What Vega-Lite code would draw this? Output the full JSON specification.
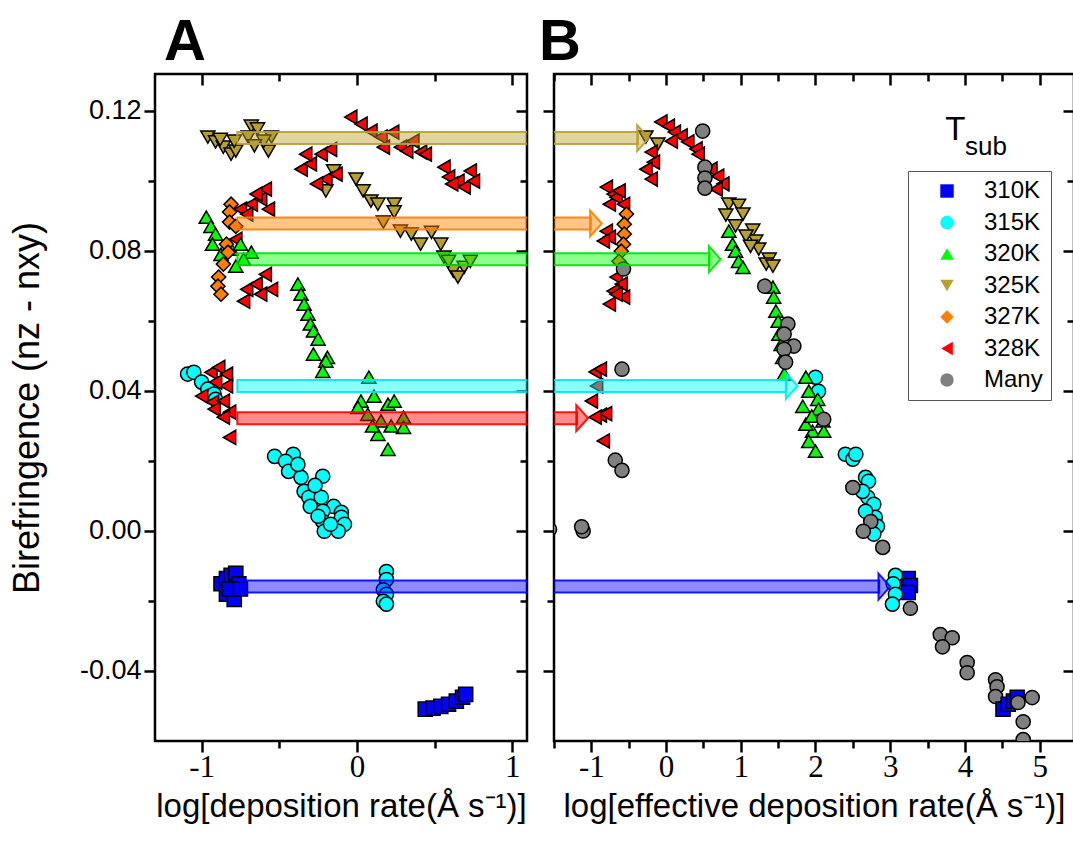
{
"$schema": "https://vega.github.io/schema/vega-lite/v6.json",
"background": "white",
"padding": {"left": 8, "top": 12, "right": 5, "bottom": 5},
"config": {
  "view": {"stroke": "black", "strokeWidth": 2.5},
  "axis": {"domain": false, "grid": false, "tickColor": "black", "tickWidth": 2.5, "labelColor": "black", "titleColor": "black", "labelFont": "Liberation Sans", "titleFont": "Liberation Sans", "titleFontWeight": "normal"},
  "title": {"font": "Liberation Sans", "fontWeight": "bold", "fontSize": 58, "color": "black", "anchor": "start", "frame": "group"}
},
"datasets": {
  "arrows": [
    {"T": "325K", "y": 0.1122, "xa": -0.77, "xb": -0.23},
    {"T": "327K", "y": 0.0878, "xa": -0.77, "xb": -0.86},
    {"T": "320K", "y": 0.0776, "xa": -0.77, "xb": 0.73},
    {"T": "315K", "y": 0.0414, "xa": -0.77, "xb": 1.76},
    {"T": "328K", "y": 0.0322, "xa": -0.77, "xb": -1.045},
    {"T": "310K", "y": -0.0159, "xa": -0.75, "xb": 3.0}
  ],
  "pts": [
    {"p":"A","T":"325K","x":-0.96,"y":0.1125},{"p":"A","T":"325K","x":-0.91,"y":0.1111},{"p":"A","T":"325K","x":-0.86,"y":0.1096},{"p":"A","T":"325K","x":-0.81,"y":0.1076},{"p":"A","T":"325K","x":-0.78,"y":0.1085},{"p":"A","T":"325K","x":-0.79,"y":0.1113},{"p":"A","T":"325K","x":-0.68,"y":0.1156},{"p":"A","T":"325K","x":-0.64,"y":0.1148},{"p":"A","T":"325K","x":-0.57,"y":0.1085},{"p":"A","T":"325K","x":-0.55,"y":0.1125},{"p":"A","T":"325K","x":-0.60,"y":0.1113},{"p":"A","T":"325K","x":-0.70,"y":0.1125},{"p":"A","T":"325K","x":-0.15,"y":0.1028},{"p":"A","T":"325K","x":-0.20,"y":0.0971},{"p":"A","T":"325K","x":-0.88,"y":0.1118},{"p":"A","T":"325K","x":-0.66,"y":0.1100},
    {"p":"A","T":"325K","x":-0.006,"y":0.1005},{"p":"A","T":"325K","x":0.04,"y":0.0971},{"p":"A","T":"325K","x":0.09,"y":0.0942},{"p":"A","T":"325K","x":0.135,"y":0.0933},{"p":"A","T":"325K","x":0.24,"y":0.0933},{"p":"A","T":"325K","x":0.24,"y":0.0911},{"p":"A","T":"325K","x":0.17,"y":0.0882},{"p":"A","T":"325K","x":0.28,"y":0.0856},{"p":"A","T":"325K","x":0.35,"y":0.0848},{"p":"A","T":"325K","x":0.41,"y":0.0819},{"p":"A","T":"325K","x":0.48,"y":0.0853},{"p":"A","T":"325K","x":0.54,"y":0.0819},{"p":"A","T":"325K","x":0.56,"y":0.0782},{"p":"A","T":"325K","x":0.62,"y":0.0742},{"p":"A","T":"325K","x":0.69,"y":0.0753},{"p":"A","T":"325K","x":0.73,"y":0.0770},{"p":"A","T":"325K","x":0.65,"y":0.0725},{"p":"A","T":"325K","x":0.59,"y":0.0770},
    {"p":"A","T":"328K","x":-0.04,"y":0.1182},{"p":"A","T":"328K","x":0.026,"y":0.1162},{"p":"A","T":"328K","x":0.09,"y":0.1142},{"p":"A","T":"328K","x":0.155,"y":0.1125},{"p":"A","T":"328K","x":0.23,"y":0.1139},{"p":"A","T":"328K","x":0.17,"y":0.1096},{"p":"A","T":"328K","x":0.28,"y":0.1096},{"p":"A","T":"328K","x":0.36,"y":0.1113},{"p":"A","T":"328K","x":0.41,"y":0.1082},{"p":"A","T":"328K","x":0.44,"y":0.1076},{"p":"A","T":"328K","x":0.32,"y":0.1085},
    {"p":"A","T":"328K","x":0.56,"y":0.1039},{"p":"A","T":"328K","x":0.59,"y":0.1011},{"p":"A","T":"328K","x":0.65,"y":0.0999},{"p":"A","T":"328K","x":0.73,"y":0.1028},{"p":"A","T":"328K","x":0.69,"y":0.0982},{"p":"A","T":"328K","x":0.61,"y":0.0991},{"p":"A","T":"328K","x":0.75,"y":0.0999},
    {"p":"A","T":"328K","x":-0.36,"y":0.1033},{"p":"A","T":"328K","x":-0.30,"y":0.1048},{"p":"A","T":"328K","x":-0.23,"y":0.1076},{"p":"A","T":"328K","x":-0.17,"y":0.1090},{"p":"A","T":"328K","x":-0.20,"y":0.1005},{"p":"A","T":"328K","x":-0.26,"y":0.0991},{"p":"A","T":"328K","x":-0.135,"y":0.1019},{"p":"A","T":"328K","x":-0.33,"y":0.1076},
    {"p":"A","T":"328K","x":-0.75,"y":0.0919},{"p":"A","T":"328K","x":-0.68,"y":0.0933},{"p":"A","T":"328K","x":-0.62,"y":0.0948},{"p":"A","T":"328K","x":-0.59,"y":0.0976},{"p":"A","T":"328K","x":-0.65,"y":0.0962},{"p":"A","T":"328K","x":-0.71,"y":0.0905},{"p":"A","T":"328K","x":-0.57,"y":0.0919},{"p":"A","T":"328K","x":-0.78,"y":0.0833},
    {"p":"A","T":"328K","x":-0.71,"y":0.0690},{"p":"A","T":"328K","x":-0.65,"y":0.0705},{"p":"A","T":"328K","x":-0.59,"y":0.0733},{"p":"A","T":"328K","x":-0.62,"y":0.0676},{"p":"A","T":"328K","x":-0.55,"y":0.0690},{"p":"A","T":"328K","x":-0.73,"y":0.0656},
    {"p":"A","T":"320K","x":-0.97,"y":0.0896},{"p":"A","T":"320K","x":-0.94,"y":0.0870},{"p":"A","T":"320K","x":-0.91,"y":0.0848},{"p":"A","T":"320K","x":-0.93,"y":0.0819},{"p":"A","T":"320K","x":-0.875,"y":0.0790},{"p":"A","T":"320K","x":-0.81,"y":0.0805},{"p":"A","T":"320K","x":-0.75,"y":0.0819},{"p":"A","T":"320K","x":-0.68,"y":0.0796},{"p":"A","T":"320K","x":-0.73,"y":0.0776},{"p":"A","T":"320K","x":-0.78,"y":0.0756},
    {"p":"A","T":"327K","x":-0.81,"y":0.0933},{"p":"A","T":"327K","x":-0.82,"y":0.0911},{"p":"A","T":"327K","x":-0.82,"y":0.0882},{"p":"A","T":"327K","x":-0.84,"y":0.0819},{"p":"A","T":"327K","x":-0.83,"y":0.0796},{"p":"A","T":"327K","x":-0.86,"y":0.0762},{"p":"A","T":"327K","x":-0.89,"y":0.0725},{"p":"A","T":"327K","x":-0.895,"y":0.0699},{"p":"A","T":"327K","x":-0.875,"y":0.0676},{"p":"A","T":"327K","x":-0.78,"y":0.0870},
    {"p":"A","T":"320K","x":-0.38,"y":0.0705},{"p":"A","T":"320K","x":-0.36,"y":0.0676},{"p":"A","T":"320K","x":-0.34,"y":0.0648},{"p":"A","T":"320K","x":-0.315,"y":0.0619},{"p":"A","T":"320K","x":-0.30,"y":0.0591},{"p":"A","T":"320K","x":-0.28,"y":0.0571},{"p":"A","T":"320K","x":-0.25,"y":0.0548},{"p":"A","T":"320K","x":-0.28,"y":0.0505},{"p":"A","T":"320K","x":-0.19,"y":0.0496},{"p":"A","T":"320K","x":-0.20,"y":0.0485},{"p":"A","T":"320K","x":-0.22,"y":0.0456},
    {"p":"A","T":"320K","x":0.077,"y":0.0439},{"p":"A","T":"320K","x":0.026,"y":0.0371},{"p":"A","T":"320K","x":0.11,"y":0.0385},{"p":"A","T":"320K","x":0.20,"y":0.0362},{"p":"A","T":"320K","x":0.24,"y":0.0371},{"p":"A","T":"320K","x":0.30,"y":0.0325},{"p":"A","T":"320K","x":0.155,"y":0.0314},{"p":"A","T":"320K","x":0.30,"y":0.0296},{"p":"A","T":"320K","x":0.135,"y":0.0276},{"p":"A","T":"320K","x":0.20,"y":0.0233},{"p":"A","T":"320K","x":0.006,"y":0.0353},{"p":"A","T":"320K","x":0.07,"y":0.0333},{"p":"A","T":"320K","x":0.10,"y":0.0300},{"p":"A","T":"320K","x":0.22,"y":0.0300},
    {"p":"A","T":"315K","x":-1.09,"y":0.0448},{"p":"A","T":"315K","x":-1.05,"y":0.0453},{"p":"A","T":"315K","x":-1.0,"y":0.0425},{"p":"A","T":"315K","x":-0.96,"y":0.0405},{"p":"A","T":"315K","x":-0.92,"y":0.0391},{"p":"A","T":"315K","x":-0.91,"y":0.0376},
    {"p":"A","T":"328K","x":-0.94,"y":0.0453},{"p":"A","T":"328K","x":-0.89,"y":0.0467},{"p":"A","T":"328K","x":-0.84,"y":0.0448},{"p":"A","T":"328K","x":-0.84,"y":0.0414},{"p":"A","T":"328K","x":-0.91,"y":0.0425},{"p":"A","T":"328K","x":-1.0,"y":0.0385},{"p":"A","T":"328K","x":-0.93,"y":0.0368},{"p":"A","T":"328K","x":-0.86,"y":0.0371},{"p":"A","T":"328K","x":-0.82,"y":0.0339},{"p":"A","T":"328K","x":-0.92,"y":0.0348},{"p":"A","T":"328K","x":-0.86,"y":0.0325},{"p":"A","T":"328K","x":-0.82,"y":0.0267},
    {"p":"A","T":"315K","x":-0.53,"y":0.0213},{"p":"A","T":"315K","x":-0.41,"y":0.0219},{"p":"A","T":"315K","x":-0.46,"y":0.0199},{"p":"A","T":"315K","x":-0.44,"y":0.0170},{"p":"A","T":"315K","x":-0.36,"y":0.0153},{"p":"A","T":"315K","x":-0.22,"y":0.0156},{"p":"A","T":"315K","x":-0.34,"y":0.0113},{"p":"A","T":"315K","x":-0.31,"y":0.0096},{"p":"A","T":"315K","x":-0.23,"y":0.0096},{"p":"A","T":"315K","x":-0.15,"y":0.0070},{"p":"A","T":"315K","x":-0.10,"y":0.0053},{"p":"A","T":"315K","x":-0.30,"y":0.0070},{"p":"A","T":"315K","x":-0.22,"y":0.0056},{"p":"A","T":"315K","x":-0.22,"y":0.0027},{"p":"A","T":"315K","x":-0.10,"y":0.0039},{"p":"A","T":"315K","x":-0.08,"y":0.0019},{"p":"A","T":"315K","x":-0.12,"y":-0.0001},{"p":"A","T":"315K","x":-0.21,"y":-0.0001},{"p":"A","T":"315K","x":-0.17,"y":0.0019},{"p":"A","T":"315K","x":-0.25,"y":0.0042},{"p":"A","T":"315K","x":-0.38,"y":0.0190},{"p":"A","T":"315K","x":-0.27,"y":0.0130},
    {"p":"A","T":"315K","x":0.19,"y":-0.0116},{"p":"A","T":"315K","x":0.19,"y":-0.0139},{"p":"A","T":"315K","x":0.17,"y":-0.0168},{"p":"A","T":"315K","x":0.19,"y":-0.0181},{"p":"A","T":"315K","x":0.17,"y":-0.0201},{"p":"A","T":"315K","x":0.19,"y":-0.0209},
    {"p":"A","T":"310K","x":-0.875,"y":-0.0151},{"p":"A","T":"310K","x":-0.84,"y":-0.0136},{"p":"A","T":"310K","x":-0.81,"y":-0.0127},{"p":"A","T":"310K","x":-0.78,"y":-0.0121},{"p":"A","T":"310K","x":-0.76,"y":-0.0151},{"p":"A","T":"310K","x":-0.84,"y":-0.0181},{"p":"A","T":"310K","x":-0.79,"y":-0.0196},{"p":"A","T":"310K","x":-0.82,"y":-0.0166},{"p":"A","T":"310K","x":-0.75,"y":-0.0166},
    {"p":"A","T":"310K","x":0.44,"y":-0.0509},{"p":"A","T":"310K","x":0.49,"y":-0.0506},{"p":"A","T":"310K","x":0.54,"y":-0.0501},{"p":"A","T":"310K","x":0.59,"y":-0.0495},{"p":"A","T":"310K","x":0.64,"y":-0.0486},{"p":"A","T":"310K","x":0.68,"y":-0.0475},{"p":"A","T":"310K","x":0.70,"y":-0.0467},

    {"p":"B","T":"Many","x":-1.56,"y":0.0005},{"p":"B","T":"Many","x":-1.11,"y":0.0000},{"p":"B","T":"Many","x":-1.13,"y":0.0012},{"p":"B","T":"Many","x":-0.59,"y":0.0462},{"p":"B","T":"Many","x":-0.68,"y":0.0202},{"p":"B","T":"Many","x":-0.59,"y":0.0173},
    {"p":"B","T":"328K","x":-0.80,"y":0.0982},{"p":"B","T":"328K","x":-0.71,"y":0.0962},{"p":"B","T":"328K","x":-0.76,"y":0.0933},{"p":"B","T":"328K","x":-0.67,"y":0.0953},{"p":"B","T":"328K","x":-0.63,"y":0.0971},{"p":"B","T":"328K","x":-0.80,"y":0.0856},{"p":"B","T":"328K","x":-0.76,"y":0.0839},{"p":"B","T":"328K","x":-0.84,"y":0.0828},{"p":"B","T":"328K","x":-0.67,"y":0.0725},{"p":"B","T":"328K","x":-0.60,"y":0.0705},{"p":"B","T":"328K","x":-0.71,"y":0.0685},{"p":"B","T":"328K","x":-0.57,"y":0.0668},{"p":"B","T":"328K","x":-0.76,"y":0.0648},{"p":"B","T":"328K","x":-0.67,"y":0.0676},{"p":"B","T":"328K","x":-0.57,"y":0.0933},
    {"p":"B","T":"327K","x":-0.53,"y":0.0905},{"p":"B","T":"327K","x":-0.56,"y":0.0876},{"p":"B","T":"327K","x":-0.56,"y":0.0848},{"p":"B","T":"327K","x":-0.57,"y":0.0819},{"p":"B","T":"327K","x":-0.60,"y":0.0799},{"p":"B","T":"327K","x":-0.63,"y":0.0770},
    {"p":"B","T":"Many","x":-0.57,"y":0.0748},
    {"p":"B","T":"328K","x":-0.95,"y":0.0454},{"p":"B","T":"328K","x":-0.88,"y":0.0462},{"p":"B","T":"328K","x":-0.93,"y":0.0414},{"p":"B","T":"328K","x":-1.0,"y":0.0371},{"p":"B","T":"328K","x":-0.88,"y":0.0331},{"p":"B","T":"328K","x":-0.81,"y":0.0335},{"p":"B","T":"328K","x":-0.84,"y":0.0257},{"p":"B","T":"328K","x":-0.95,"y":0.0325},
    {"p":"B","T":"325K","x":-0.27,"y":0.1125},{"p":"B","T":"325K","x":-0.11,"y":0.1105},
    {"p":"B","T":"328K","x":-0.07,"y":0.1168},{"p":"B","T":"328K","x":0.03,"y":0.1156},{"p":"B","T":"328K","x":0.11,"y":0.1139},{"p":"B","T":"328K","x":0.20,"y":0.1128},{"p":"B","T":"328K","x":0.29,"y":0.1111},{"p":"B","T":"328K","x":0.40,"y":0.1091},{"p":"B","T":"328K","x":0.43,"y":0.1076},{"p":"B","T":"328K","x":-0.20,"y":0.1082},{"p":"B","T":"328K","x":-0.17,"y":0.1053},{"p":"B","T":"328K","x":-0.27,"y":0.1033},{"p":"B","T":"328K","x":-0.20,"y":0.1005},{"p":"B","T":"328K","x":0.60,"y":0.1033},{"p":"B","T":"328K","x":0.69,"y":0.1013},{"p":"B","T":"328K","x":0.76,"y":0.0991},{"p":"B","T":"328K","x":0.67,"y":0.0976},{"p":"B","T":"328K","x":0.07,"y":0.1113},
    {"p":"B","T":"Many","x":0.49,"y":0.1142},{"p":"B","T":"Many","x":0.52,"y":0.1039},{"p":"B","T":"Many","x":0.52,"y":0.1008},{"p":"B","T":"Many","x":0.52,"y":0.0979},
    {"p":"B","T":"325K","x":0.84,"y":0.0933},{"p":"B","T":"325K","x":0.97,"y":0.0930},{"p":"B","T":"325K","x":0.80,"y":0.0902},{"p":"B","T":"325K","x":1.03,"y":0.0905},{"p":"B","T":"325K","x":0.93,"y":0.0871},{"p":"B","T":"325K","x":1.16,"y":0.0859},{"p":"B","T":"325K","x":1.20,"y":0.0828},{"p":"B","T":"325K","x":1.07,"y":0.0842},{"p":"B","T":"325K","x":1.24,"y":0.0805},{"p":"B","T":"325K","x":1.38,"y":0.0776},{"p":"B","T":"325K","x":1.34,"y":0.0762},{"p":"B","T":"325K","x":1.43,"y":0.0756},{"p":"B","T":"325K","x":1.13,"y":0.0813},
    {"p":"B","T":"320K","x":0.84,"y":0.0856},{"p":"B","T":"320K","x":0.89,"y":0.0819},{"p":"B","T":"320K","x":0.93,"y":0.0799},{"p":"B","T":"320K","x":0.97,"y":0.0770},{"p":"B","T":"320K","x":1.03,"y":0.0753},{"p":"B","T":"320K","x":1.43,"y":0.0696},{"p":"B","T":"320K","x":1.44,"y":0.0668},{"p":"B","T":"320K","x":1.47,"y":0.0628},{"p":"B","T":"320K","x":1.50,"y":0.0599},{"p":"B","T":"320K","x":1.51,"y":0.0562},{"p":"B","T":"320K","x":1.54,"y":0.0533},{"p":"B","T":"320K","x":1.56,"y":0.0496},{"p":"B","T":"320K","x":1.58,"y":0.0448},
    {"p":"B","T":"Many","x":1.32,"y":0.0699},{"p":"B","T":"Many","x":1.63,"y":0.0591},{"p":"B","T":"Many","x":1.58,"y":0.0562},{"p":"B","T":"Many","x":1.71,"y":0.0528},{"p":"B","T":"Many","x":1.58,"y":0.0519},{"p":"B","T":"Many","x":1.60,"y":0.0482},
    {"p":"B","T":"315K","x":2.0,"y":0.0439},{"p":"B","T":"315K","x":2.04,"y":0.0399},
    {"p":"B","T":"320K","x":1.87,"y":0.0439},{"p":"B","T":"320K","x":1.91,"y":0.0399},{"p":"B","T":"320K","x":2.03,"y":0.0376},{"p":"B","T":"320K","x":1.83,"y":0.0356},{"p":"B","T":"320K","x":2.10,"y":0.0314},{"p":"B","T":"320K","x":1.96,"y":0.0285},{"p":"B","T":"320K","x":2.11,"y":0.0285},{"p":"B","T":"320K","x":1.91,"y":0.0256},{"p":"B","T":"320K","x":2.0,"y":0.0228},{"p":"B","T":"320K","x":2.04,"y":0.0348},{"p":"B","T":"320K","x":1.87,"y":0.0305},{"p":"B","T":"320K","x":1.95,"y":0.0328},
    {"p":"B","T":"Many","x":2.11,"y":0.0319},
    {"p":"B","T":"315K","x":2.40,"y":0.0219},{"p":"B","T":"315K","x":2.50,"y":0.0205},{"p":"B","T":"315K","x":2.54,"y":0.0219},{"p":"B","T":"315K","x":2.67,"y":0.0153},{"p":"B","T":"315K","x":2.71,"y":0.0142},{"p":"B","T":"315K","x":2.70,"y":0.0096},{"p":"B","T":"315K","x":2.78,"y":0.0076},{"p":"B","T":"315K","x":2.80,"y":0.0039},{"p":"B","T":"315K","x":2.83,"y":0.0013},{"p":"B","T":"315K","x":2.67,"y":0.0056},{"p":"B","T":"315K","x":2.63,"y":0.0113},{"p":"B","T":"315K","x":2.78,"y":-0.0009},
    {"p":"B","T":"Many","x":2.50,"y":0.0124},{"p":"B","T":"Many","x":2.74,"y":0.0027},{"p":"B","T":"Many","x":2.64,"y":-0.0001},{"p":"B","T":"Many","x":2.90,"y":-0.0047},
    {"p":"B","T":"310K","x":3.24,"y":-0.0136},{"p":"B","T":"310K","x":3.27,"y":-0.0156},{"p":"B","T":"310K","x":3.24,"y":-0.0176},
    {"p":"B","T":"315K","x":3.07,"y":-0.0127},{"p":"B","T":"315K","x":3.04,"y":-0.0151},{"p":"B","T":"315K","x":3.07,"y":-0.0181},{"p":"B","T":"315K","x":3.03,"y":-0.0209},
    {"p":"B","T":"Many","x":3.27,"y":-0.0221},{"p":"B","T":"Many","x":3.67,"y":-0.0296},{"p":"B","T":"Many","x":3.83,"y":-0.0305},{"p":"B","T":"Many","x":3.70,"y":-0.0331},{"p":"B","T":"Many","x":4.03,"y":-0.0376},{"p":"B","T":"Many","x":4.03,"y":-0.0405},{"p":"B","T":"Many","x":4.41,"y":-0.0425},{"p":"B","T":"Many","x":4.43,"y":-0.0445},{"p":"B","T":"Many","x":4.41,"y":-0.0473},
    {"p":"B","T":"310K","x":4.51,"y":-0.0509},{"p":"B","T":"310K","x":4.58,"y":-0.0495},{"p":"B","T":"310K","x":4.65,"y":-0.0486},{"p":"B","T":"310K","x":4.70,"y":-0.0475},
    {"p":"B","T":"Many","x":4.71,"y":-0.0490},{"p":"B","T":"Many","x":4.90,"y":-0.0476},{"p":"B","T":"Many","x":4.78,"y":-0.0545},{"p":"B","T":"Many","x":4.78,"y":-0.0596}
  ]
},
"spacing": 7,
"resolve": {"scale": {"fill": "independent", "shape": "independent", "color": "independent", "stroke": "independent"}},
"hconcat": [
{
  "width": 372, "height": 667,
  "title": {"text": "A", "dx": 9, "offset": 1},
  "resolve": {"axis": {"x": "independent", "y": "independent"}},
  "layer": [
    {"data": {"name": "pts"}, "transform": [{"filter": "datum.p === 'A'"}],
     "mark": {"type": "point", "filled": true, "size": 200, "stroke": "black", "strokeWidth": 1.5, "opacity": 1, "clip": true},
     "encoding": {
       "x": {"field": "x", "type": "quantitative", "scale": {"domain": [-1.3, 1.095], "nice": false, "zero": false}, "axis": null},
       "y": {"field": "y", "type": "quantitative", "scale": {"domain": [-0.06, 0.1305], "nice": false, "zero": false}, "axis": null},
       "fill": {"field": "T", "type": "nominal", "scale": {"domain": ["310K","315K","320K","325K","327K","328K","Many"], "range": ["#0000ff","#00ffff","#00ff00","#b8a030","#ff8000","#ff0000","#808080"]}, "legend": null},
       "shape": {"field": "T", "type": "nominal", "scale": {"domain": ["310K","315K","320K","325K","327K","328K","Many"], "range": ["square","circle","triangle-up","triangle-down","diamond","triangle-left","circle"]}, "legend": null}
     }},
    {"data": {"name": "arrows"},
     "mark": {"type": "rect", "fillOpacity": 0.45, "strokeOpacity": 0.9, "strokeWidth": 2, "yOffset": -6, "y2Offset": 6, "clip": true},
     "encoding": {
       "x": {"field": "xa", "type": "quantitative", "axis": null},
       "x2": {"datum": 3},
       "y": {"field": "y", "type": "quantitative", "axis": null},
       "y2": {"field": "y"},
       "color": {"field": "T", "type": "nominal", "scale": {"domain": ["310K","315K","320K","325K","327K","328K"], "range": ["#0000ff","#00ffff","#00ff00","#b8a030","#ff8000","#ff0000"]}, "legend": null},
       "stroke": {"field": "T", "type": "nominal", "scale": {"domain": ["310K","315K","320K","325K","327K","328K"], "range": ["#0000ff","#00e8e8","#00e000","#b8a030","#ff8000","#ff0000"]}, "legend": null}
     }},
    {"data": {"name": "arrows"}, "mark": {"type": "point", "opacity": 0},
     "encoding": {
       "x": {"datum": 0, "type": "quantitative", "axis": {"orient": "bottom", "values": [-1, 0, 1], "tickSize": 11, "labelFontSize": 31, "labelFont": "Liberation Sans Narrow", "labelPadding": 0, "labelExpr": "'' + datum.value", "title": "log[deposition rate(Å s⁻¹)]", "titleFontSize": 33, "titlePadding": 8}},
       "y": {"datum": 0, "type": "quantitative", "axis": {"orient": "left", "values": [-0.04, 0, 0.04, 0.08, 0.12], "tickSize": 11, "labelFontSize": 27, "labelPadding": 3, "labelExpr": "replace(format(datum.value, '.2f'), '−', '-')", "title": "Birefringence (nz - nxy)", "titleFontSize": 36, "titlePadding": 33}}
     }},
    {"data": {"name": "arrows"}, "mark": {"type": "point", "opacity": 0},
     "encoding": {
       "x": {"datum": 0, "type": "quantitative", "axis": {"orient": "bottom", "values": [-0.5, 0.5], "tickSize": 7, "labels": false, "title": null}},
       "y": {"datum": 0, "type": "quantitative", "axis": {"orient": "left", "values": [-0.02, 0.02, 0.06, 0.10], "tickSize": 7, "labels": false, "title": null}}
     }},
    {"data": {"name": "arrows"}, "mark": {"type": "point", "opacity": 0},
     "encoding": {
       "x": {"datum": 0, "type": "quantitative", "axis": {"orient": "top", "values": [-1, 0, 1], "tickSize": -11, "labels": false, "title": null}},
       "y": {"datum": 0, "type": "quantitative", "axis": {"orient": "right", "values": [-0.04, 0, 0.04, 0.08, 0.12], "tickSize": -11, "labels": false, "title": null}}
     }},
    {"data": {"name": "arrows"}, "mark": {"type": "point", "opacity": 0},
     "encoding": {
       "x": {"datum": 0, "type": "quantitative", "axis": {"orient": "top", "values": [-0.5, 0.5], "tickSize": -7, "labels": false, "title": null}},
       "y": {"datum": 0, "type": "quantitative", "axis": {"orient": "right", "values": [-0.02, 0.02, 0.06, 0.10], "tickSize": -7, "labels": false, "title": null}}
     }}
  ]
},
{
  "width": 520, "height": 667,
  "title": {"text": "B", "dx": -15, "offset": 1},
  "resolve": {"axis": {"x": "independent", "y": "independent"}},
  "layer": [
    {"data": {"name": "pts"}, "transform": [{"filter": "datum.p === 'B'"}],
     "mark": {"type": "point", "filled": true, "size": 200, "stroke": "black", "strokeWidth": 1.5, "opacity": 1, "clip": true},
     "encoding": {
       "x": {"field": "x", "type": "quantitative", "scale": {"domain": [-1.5, 5.46], "nice": false, "zero": false}, "axis": null},
       "y": {"field": "y", "type": "quantitative", "scale": {"domain": [-0.06, 0.1305], "nice": false, "zero": false}, "axis": null},
       "fill": {"field": "T", "type": "nominal", "scale": {"domain": ["310K","315K","320K","325K","327K","328K","Many"], "range": ["#0000ff","#00ffff","#00ff00","#b8a030","#ff8000","#ff0000","#808080"]},
         "legend": {"orient": "none", "legendX": 354, "legendY": 97, "title": null, "strokeColor": "#555555", "fillColor": "white", "padding": 8, "symbolOffset": 19, "labelOffset": 25, "labelFontSize": 24, "labelFont": "Liberation Sans", "labelColor": "black", "symbolSize": 180, "symbolStrokeColor": "black", "symbolStrokeWidth": 1.5, "rowPadding": 7.5, "cornerRadius": 0}},
       "shape": {"field": "T", "type": "nominal", "scale": {"domain": ["310K","315K","320K","325K","327K","328K","Many"], "range": ["square","circle","triangle-up","triangle-down","diamond","triangle-left","circle"]},
         "legend": {"orient": "none", "legendX": 354, "legendY": 97, "title": null, "strokeColor": "#555555", "fillColor": "white", "padding": 8, "symbolOffset": 19, "labelOffset": 25, "labelFontSize": 24, "labelFont": "Liberation Sans", "labelColor": "black", "symbolSize": 180, "symbolStrokeColor": "black", "symbolStrokeWidth": 1.5, "rowPadding": 7.5, "cornerRadius": 0}}
     }},
    {"data": {"name": "arrows"},
     "mark": {"type": "rect", "fillOpacity": 0.45, "strokeOpacity": 0.9, "strokeWidth": 2, "yOffset": -6, "y2Offset": 6, "xOffset": -11, "clip": true},
     "encoding": {
       "x": {"field": "xb", "type": "quantitative", "axis": null},
       "x2": {"datum": -3},
       "y": {"field": "y", "type": "quantitative", "axis": null},
       "y2": {"field": "y"},
       "color": {"field": "T", "type": "nominal", "scale": {"domain": ["310K","315K","320K","325K","327K","328K"], "range": ["#0000ff","#00ffff","#00ff00","#b8a030","#ff8000","#ff0000"]}, "legend": null},
       "stroke": {"field": "T", "type": "nominal", "scale": {"domain": ["310K","315K","320K","325K","327K","328K"], "range": ["#0000ff","#00e8e8","#00e000","#b8a030","#ff8000","#ff0000"]}, "legend": null}
     }},
    {"data": {"name": "arrows"},
     "mark": {"type": "point", "shape": "M0,0L-0.9,-1L-0.9,1Z", "size": 676, "filled": true, "fillOpacity": 0.45, "strokeOpacity": 0.9, "strokeWidth": 2, "opacity": 1, "clip": true},
     "encoding": {
       "x": {"field": "xb", "type": "quantitative", "axis": null},
       "y": {"field": "y", "type": "quantitative", "axis": null},
       "color": {"field": "T", "type": "nominal", "legend": null},
       "stroke": {"field": "T", "type": "nominal", "legend": null}
     }},
    {"data": {"values": [{"label": "T"}]},
     "mark": {"type": "text", "fontSize": 33, "font": "Liberation Sans", "align": "center", "baseline": "alphabetic", "color": "black"},
     "encoding": {
       "x": {"datum": 3.87, "type": "quantitative", "axis": null},
       "y": {"datum": 0.1116, "type": "quantitative", "axis": null},
       "text": {"field": "label", "type": "nominal"}
     }},
    {"data": {"values": [{"label": "sub"}]},
     "mark": {"type": "text", "fontSize": 26, "font": "Liberation Sans", "align": "left", "baseline": "alphabetic", "color": "black"},
     "encoding": {
       "x": {"datum": 4.0, "type": "quantitative", "axis": null},
       "y": {"datum": 0.1075, "type": "quantitative", "axis": null},
       "text": {"field": "label", "type": "nominal"}
     }},
    {"data": {"name": "arrows"}, "mark": {"type": "point", "opacity": 0},
     "encoding": {
       "x": {"datum": 0, "type": "quantitative", "axis": {"orient": "bottom", "values": [-1, 0, 1, 2, 3, 4, 5], "tickSize": 11, "labelFontSize": 31, "labelFont": "Liberation Sans Narrow", "labelPadding": 0, "labelExpr": "'' + datum.value", "title": "log[effective deposition rate(Å s⁻¹)]", "titleFontSize": 33, "titlePadding": 8}},
       "y": {"datum": 0, "type": "quantitative", "axis": {"orient": "left", "values": [-0.04, 0, 0.04, 0.08, 0.12], "tickSize": 11, "labels": false, "title": null}}
     }},
    {"data": {"name": "arrows"}, "mark": {"type": "point", "opacity": 0},
     "encoding": {
       "x": {"datum": 0, "type": "quantitative", "axis": {"orient": "bottom", "values": [-1.5, -0.5, 0.5, 1.5, 2.5, 3.5, 4.5], "tickSize": 7, "labels": false, "title": null}},
       "y": {"datum": 0, "type": "quantitative", "axis": {"orient": "left", "values": [-0.02, 0.02, 0.06, 0.10], "tickSize": 7, "labels": false, "title": null}}
     }},
    {"data": {"name": "arrows"}, "mark": {"type": "point", "opacity": 0},
     "encoding": {
       "x": {"datum": 0, "type": "quantitative", "axis": {"orient": "top", "values": [-1, 0, 1, 2, 3, 4, 5], "tickSize": -11, "labels": false, "title": null}},
       "y": {"datum": 0, "type": "quantitative", "axis": {"orient": "right", "values": [-0.04, 0, 0.04, 0.08, 0.12], "tickSize": -11, "labels": false, "title": null}}
     }},
    {"data": {"name": "arrows"}, "mark": {"type": "point", "opacity": 0},
     "encoding": {
       "x": {"datum": 0, "type": "quantitative", "axis": {"orient": "top", "values": [-1.5, -0.5, 0.5, 1.5, 2.5, 3.5, 4.5], "tickSize": -7, "labels": false, "title": null}},
       "y": {"datum": 0, "type": "quantitative", "axis": {"orient": "right", "values": [-0.02, 0.02, 0.06, 0.10], "tickSize": -7, "labels": false, "title": null}}
     }}
  ]
}
]
}
